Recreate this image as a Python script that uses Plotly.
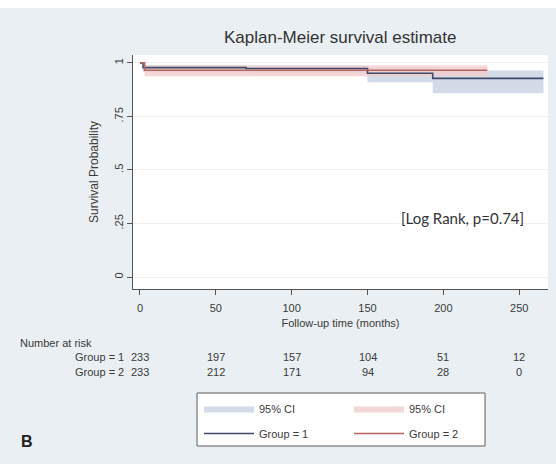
import plotly.graph_objects as go

# ---- data ----
g1_time = [0, 2, 70, 150, 193, 266]
g1_surv = [1.0, 0.978, 0.974, 0.952, 0.928, 0.928]
g1_lo = [1.0, 0.958, 0.954, 0.910, 0.858, 0.858]
g1_hi = [1.0, 0.990, 0.988, 0.978, 0.965, 0.965]

g2_time = [0, 3, 229]
g2_surv = [1.0, 0.966, 0.966]
g2_lo = [1.0, 0.938, 0.938]
g2_hi = [1.0, 0.988, 0.988]

risk_times = [0, 50, 100, 150, 200, 250]
risk_g1 = [233, 197, 157, 104, 51, 12]
risk_g2 = [233, 212, 171, 94, 28, 0]

x_ticks = [0, 50, 100, 150, 200, 250]
y_ticks = [0, 0.25, 0.5, 0.75, 1]
y_ticklabels = ["0", ".25", ".5", ".75", "1"]

BLUE_LINE = "#3d4a6b"
RED_LINE = "#b5655f"
BLUE_FILL = "rgba(196,207,224,0.75)"
PINK_FILL = "rgba(240,205,205,0.8)"
FONT = "Liberation Sans, Arial, sans-serif"
TXT = "#3a3a3a"

fig = go.Figure()

# CI bands
fig.add_trace(go.Scatter(x=g1_time, y=g1_lo, mode="lines", line=dict(width=0, shape="hv"),
                         showlegend=False, hoverinfo="skip"))
fig.add_trace(go.Scatter(x=g1_time, y=g1_hi, mode="lines", line=dict(width=0, shape="hv"),
                         fill="tonexty", fillcolor=BLUE_FILL, name="95% CI",
                         legend="legend", legendgroup="a"))
fig.add_trace(go.Scatter(x=g2_time, y=g2_lo, mode="lines", line=dict(width=0, shape="hv"),
                         showlegend=False, hoverinfo="skip"))
fig.add_trace(go.Scatter(x=g2_time, y=g2_hi, mode="lines", line=dict(width=0, shape="hv"),
                         fill="tonexty", fillcolor=PINK_FILL, name="95% CI",
                         legend="legend2", legendgroup="c"))
# survival lines
fig.add_trace(go.Scatter(x=g1_time, y=g1_surv, mode="lines",
                         line=dict(color=BLUE_LINE, width=1.6, shape="hv"), name="Group = 1",
                         legend="legend", legendgroup="b"))
fig.add_trace(go.Scatter(x=g2_time, y=g2_surv, mode="lines",
                         line=dict(color=RED_LINE, width=1.6, shape="hv"), name="Group = 2",
                         legend="legend2", legendgroup="d"))

PLOT_TOP, PLOT_BOT = 55, 289
PLOT_L, PLOT_R = 133, 548
H = PLOT_BOT - PLOT_TOP
W = PLOT_R - PLOT_L


def py(pix):
    return (PLOT_BOT - pix) / H


def px(pix):
    return (pix - PLOT_L) / W


annotations = []
annotations.append(dict(text="Number at risk", xref="paper", yref="paper",
                        x=px(18), y=py(343), xanchor="left", yanchor="middle",
                        showarrow=False, font=dict(size=11, color=TXT, family=FONT)))
for label, vals, ypix in [("Group = 1", risk_g1, 357), ("Group = 2", risk_g2, 372)]:
    annotations.append(dict(text=label, xref="paper", yref="paper", x=px(126), y=py(ypix),
                            xanchor="right", yanchor="middle", showarrow=False,
                            font=dict(size=11, color=TXT, family=FONT)))
    for t, v in zip(risk_times, vals):
        annotations.append(dict(text=str(v), xref="x", yref="paper", x=t, y=py(ypix),
                                xanchor="center", yanchor="middle", showarrow=False,
                                font=dict(size=11, color=TXT, family=FONT)))

annotations.append(dict(text="[Log Rank, p=0.74]", xref="paper", yref="paper",
                        x=px(462), y=py(218), xanchor="center", yanchor="middle",
                        showarrow=False, font=dict(size=15, color="#333333", family="Lato, sans-serif")))
annotations.append(dict(text="<b>B</b>", xref="paper", yref="paper",
                        x=px(19), y=py(441), xanchor="left", yanchor="middle",
                        showarrow=False, font=dict(size=16, color="#222222", family=FONT)))
annotations.append(dict(text="Kaplan-Meier survival estimate", xref="paper", yref="paper",
                        x=px(340), y=py(37), xanchor="center", yanchor="middle",
                        showarrow=False, font=dict(size=17, color="#333333", family=FONT)))

legend_common = dict(orientation="v", yanchor="top", xanchor="left",
                     bgcolor="rgba(0,0,0,0)", borderwidth=0, itemwidth=50,
                     tracegroupgap=6, traceorder="grouped",
                     font=dict(size=11, color=TXT, family=FONT))

fig.update_layout(
    width=556, height=464,
    margin=dict(l=PLOT_L, r=556 - PLOT_R, t=PLOT_TOP, b=464 - PLOT_BOT, autoexpand=False),
    paper_bgcolor="#e9eff2",
    plot_bgcolor="white",
    font=dict(family=FONT, size=11, color=TXT),
    annotations=annotations,
    shapes=[
        dict(type="rect", xref="paper", yref="paper", x0=-0.4, x1=1.1,
             y0=py(8), y1=py(-5), fillcolor="white", line=dict(width=0), layer="below"),
        dict(type="rect", xref="paper", yref="paper", x0=px(197), x1=px(485),
             y0=py(446), y1=py(393), fillcolor="white",
             line=dict(width=1, color="#5a5a5a"), layer="below"),
    ],
    legend=dict(x=px(199), y=py(394), **legend_common),
    legend2=dict(x=px(349), y=py(394), **legend_common),
    xaxis=dict(range=[-4.6, 269], tickvals=x_ticks, ticks="outside", ticklen=5,
               tickcolor="#555555", showline=True, linecolor="#555555", linewidth=1,
               showgrid=False, zeroline=False, mirror=False, ticklabelstandoff=4,
               title=dict(text="Follow-up time (months)", standoff=6,
                          font=dict(size=11, color=TXT, family=FONT)),
               tickfont=dict(size=11, color=TXT, family=FONT)),
    yaxis=dict(range=[-0.056, 1.037], tickvals=y_ticks, ticktext=y_ticklabels, tickangle=-90,
               ticks="outside", ticklen=5, tickcolor="#555555", showline=True,
               linecolor="#555555", linewidth=1, showgrid=True, gridcolor="#f0f0f0",
               zeroline=False,
               title=dict(text="Survival Probability", standoff=11,
                          font=dict(size=12, color=TXT, family=FONT)),
               tickfont=dict(size=11, color=TXT, family=FONT)),
)

fig.write_html("out.html", config={"displayModeBar": False},
               post_script="document.body.style.margin='0';")
